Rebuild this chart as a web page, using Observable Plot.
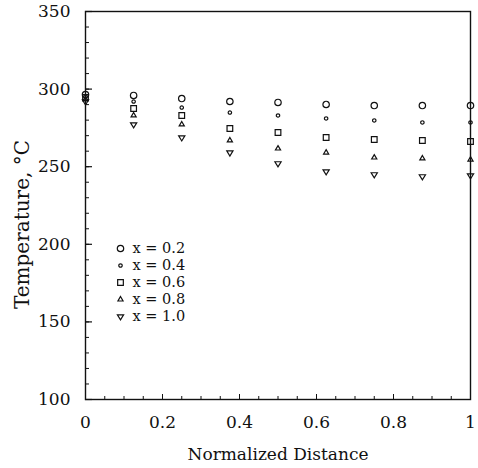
<!DOCTYPE html>
<html><head><meta charset="utf-8">
<script src="https://cdn.jsdelivr.net/npm/d3@7"></script>
<script src="https://cdn.jsdelivr.net/npm/@observablehq/plot@0.6"></script>
<style>body{margin:0;background:#fff}</style>
</head><body><div id="chart"></div>
<script>
// Normalized distance positions
const distance = [0, 0.125, 0.25, 0.375, 0.5, 0.625, 0.75, 0.875, 1];
// Series labels
const seriesLabels = ["x = 0.2", "x = 0.4", "x = 0.6", "x = 0.8", "x = 1.0"];
// Temperatures (°C) per series
const t02 = [296.5, 295.9, 293.9, 292.0, 291.4, 290.1, 289.4, 289.4, 289.4];
const t04 = [295.2, 292.0, 288.1, 284.9, 283.0, 281.1, 279.8, 278.5, 278.5];
const t06 = [294.6, 287.5, 283.0, 274.6, 272.0, 268.8, 267.5, 266.9, 266.2];
const t08 = [293.3, 283.0, 277.2, 266.9, 261.7, 259.1, 255.9, 255.3, 254.6];
const t10 = [292.0, 277.2, 268.8, 259.1, 252.1, 246.9, 245.0, 243.7, 244.3];
// Ticks
const yTicks = [100, 150, 200, 250, 300, 350];
const yMinor = d3.range(100, 351, 10);
const xTicks = [0, 0.2, 0.4, 0.6, 0.8, 1];
const xTickLabels = ["0", "0.2", "0.4", "0.6", "0.8", "1"];
const xMinor = d3.range(0, 1.0001, 0.05);

const triangleDown = {
  draw(context, size) {
    const s = Math.sqrt(size / 1.3);
    context.moveTo(-s, -s * 0.55);
    context.lineTo(s, -s * 0.55);
    context.lineTo(0, s * 1.1);
    context.closePath();
  }
};

const seriesValues = [t02, t04, t06, t08, t10];
const symbols = ["circle", "circle", "square", "triangle", triangleDown];
const radii = [3.2, 1.7, 3.2, 1.9, 2.0];

const rows = [];
seriesValues.forEach((vals, s) => vals.forEach((v, i) => rows.push({x: distance[i], y: v, s})));

const font = "DejaVu Serif, serif";
const marks = [
  Plot.frame({stroke: "#111", strokeWidth: 1.4}),
  Plot.axisY(yTicks, {tickSize: -7, tickFormat: d => String(d), fontSize: 17, tickPadding: 22, label: null, stroke: "#111", strokeWidth: 1.2}),
  Plot.axisY(yMinor, {tickSize: -4, tickFormat: () => "", label: null, stroke: "#111"}),
  Plot.axisX(xTicks, {tickSize: -5, tickFormat: (d, i) => xTickLabels[i], fontSize: 17, tickPadding: 21, label: null, stroke: "#111"}),
  Plot.axisX(xMinor, {tickSize: -3, tickFormat: () => "", label: null, stroke: "#111"}),
  Plot.text(["Normalized Distance"], {frameAnchor: "bottom", textAnchor: "middle", dy: 60, text: d => d, fontSize: 17, fontFamily: font, fill: "#111"}),
  Plot.text(["Temperature, °C"], {frameAnchor: "left", textAnchor: "middle", dx: -63, dy: 19, rotate: -90, text: d => d, fontSize: 20, letterSpacing: "1px", fontFamily: font, fill: "#111"})
];
seriesValues.forEach((vals, s) => {
  marks.push(Plot.dot(rows.filter(r => r.s === s), {x: "x", y: "y", symbol: () => symbols[s], r: radii[s], stroke: "#111", strokeWidth: 1.2, fill: "none"}));
  marks.push(Plot.dot([seriesLabels[s]], {frameAnchor: "top-left", dx: 35, dy: 237 + s * 17, symbol: () => symbols[s], r: radii[s], stroke: "#111", strokeWidth: 1.2, fill: "none"}));
  marks.push(Plot.text([seriesLabels[s]], {frameAnchor: "top-left", lineAnchor: "middle", dx: 47, dy: 237 + s * 17, text: d => d, textAnchor: "start", fontSize: 14.5, fontFamily: font, fill: "#111"}));
});

const chart = Plot.plot({
  width: 478, height: 468,
  marginLeft: 85, marginRight: 8, marginTop: 11, marginBottom: 69,
  style: {fontFamily: font, background: "#fff", color: "#111"},
  x: {domain: [0, 1]},
  y: {domain: [100, 350]},
  symbol: {type: "identity"},
  marks
});
document.getElementById("chart").append(chart);
</script>
</body></html>
